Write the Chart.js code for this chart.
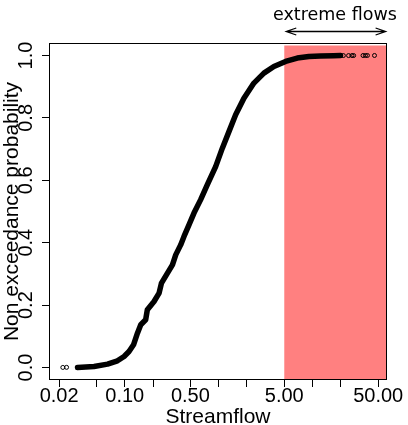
<!DOCTYPE html>
<html>
<head>
<meta charset="utf-8">
<title>Streamflow non exceedance probability</title>
<script src="https://cdn.jsdelivr.net/npm/chart.js@4.4.1/dist/chart.umd.min.js"></script>
<style>
  html, body { margin: 0; padding: 0; background: #fff; }
  canvas { display: block; }
</style>
</head>
<body>
<canvas id="cdfChart" width="408" height="425"></canvas>
<script>
const streamflow = [0.0314, 0.0471, 0.0655, 0.0836, 0.0983, 0.111, 0.124, 0.1365, 0.148, 0.167,
    0.174, 0.205, 0.232, 0.246, 0.285, 0.322, 0.349, 0.394, 0.4275, 0.483,
    0.546, 0.6435, 0.758, 0.929, 1.095, 1.287, 1.517, 1.858, 2.374, 3.034,
    3.876, 5.162, 6.874, 9.133, 12.16, 16.72, 19.86];
const probability = [0.0, 0.0032, 0.0109, 0.0215, 0.0353, 0.0513, 0.0728, 0.110, 0.137, 0.153,
    0.185, 0.2115, 0.2385, 0.2705, 0.3026, 0.329, 0.361, 0.393, 0.420, 0.457,
    0.495, 0.538, 0.586, 0.644, 0.703, 0.756, 0.810, 0.863, 0.9115, 0.9436,
    0.9647, 0.981, 0.9917, 0.9968, 0.9984, 0.9994, 0.9996];

// isolated observations in both tails
const tailFlows = [0.0219, 0.0240, 21.3, 24.2, 26.3, 27.4, 34.5, 36.6, 38.4, 45.7];
const tailProbs = [0.0003, 0.0006, 0.9997, 0.9997, 0.9998, 0.9998, 0.9999, 0.9999, 1.0, 1.0];

const xTickValues = [0.02, 0.05, 0.1, 0.2, 0.5, 1, 2, 5, 10, 20, 50];
const xTickLabels = ['0.02', '', '0.10', '', '0.50', '', '', '5.00', '', '', '50.00'];
const yTickValues = [0, 0.2, 0.4, 0.6, 0.8, 1.0];
const yTickLabels = ['0.0', '0.2', '0.4', '0.6', '0.8', '1.0'];

const extremeFrom = 5;
const extremeTo = 60;
const extremeLabel = 'extreme flows';

Chart.defaults.font.family = "'Liberation Sans', Arial, sans-serif";
Chart.defaults.color = '#000';

const decorations = {
    id: 'decorations',
    beforeDatasetsDraw(chart) {
        const {ctx, chartArea, scales: {x, y}} = chart;
        const left = x.getPixelForValue(extremeFrom);
        const top = y.getPixelForValue(1.032);
        ctx.save();
        ctx.fillStyle = '#ff8080';
        ctx.fillRect(left, top, chartArea.right - 1 - left, chartArea.bottom - top);
        ctx.restore();
    },
    afterDraw(chart) {
        const {ctx, chartArea, scales: {x, y}} = chart;
        ctx.save();
        ctx.strokeStyle = '#000';
        ctx.lineWidth = 1;
        ctx.strokeRect(chartArea.left + 0.5, chartArea.top + 0.5, chartArea.width - 1, chartArea.height - 1);

        // double headed arrow over the extreme band
        const x1 = x.getPixelForValue(extremeFrom) + 2;
        const x2 = x.getPixelForValue(extremeTo);
        const ay = Math.round(y.getPixelForValue(1.08)) + 0.5;
        ctx.lineWidth = 1.3;
        ctx.beginPath();
        ctx.moveTo(x1, ay);
        ctx.lineTo(x2, ay);
        ctx.moveTo(x1 + 10, ay - 3.5);
        ctx.lineTo(x1, ay);
        ctx.lineTo(x1 + 10, ay + 3.5);
        ctx.moveTo(x2 - 10, ay - 3.5);
        ctx.lineTo(x2, ay);
        ctx.lineTo(x2 - 10, ay + 3.5);
        ctx.stroke();

        ctx.fillStyle = '#000';
        ctx.font = "17.5px 'DejaVu Sans'";
        ctx.textAlign = 'center';
        ctx.textBaseline = 'middle';
        ctx.fillText(extremeLabel, x.getPixelForValue(Math.sqrt(extremeFrom * extremeTo)), y.getPixelForValue(1.127));
        ctx.restore();
    }
};

new Chart(document.getElementById('cdfChart'), {
    type: 'scatter',
    data: {
        datasets: [{
            data: streamflow.map((v, i) => ({x: v, y: probability[i]})),
            showLine: true,
            borderColor: '#000',
            borderWidth: 5.5,
            borderCapStyle: 'round',
            borderJoinStyle: 'round',
            pointRadius: 0,
            tension: 0
        }, {
            data: tailFlows.map((v, i) => ({x: v, y: tailProbs[i]})),
            showLine: false,
            pointRadius: 2,
            pointBorderWidth: 1,
            pointBorderColor: '#000',
            pointBackgroundColor: 'rgba(0,0,0,0)'
        }]
    },
    options: {
        responsive: false,
        animation: false,
        layout: { padding: { top: 43, right: 21, left: 0, bottom: 0 } },
        plugins: { legend: { display: false }, tooltip: { enabled: false } },
        scales: {
            x: {
                type: 'logarithmic',
                min: 0.0156,
                max: 62.1,
                afterBuildTicks: s => { s.ticks = xTickValues.map(v => ({value: v})); },
                afterFit: s => { s.height = 45; },
                border: { display: false },
                grid: { drawOnChartArea: false, drawTicks: true, tickLength: 7, color: '#000' },
                ticks: {
                    autoSkip: false, maxRotation: 0, padding: -3,
                    font: { size: 20 },
                    callback: (v, i) => xTickLabels[i]
                },
                title: { display: true, text: 'Streamflow', font: { size: 21, lineHeight: 1 }, padding: { top: 0, bottom: -3 } }
            },
            y: {
                min: -0.04,
                max: 1.04,
                afterBuildTicks: s => { s.ticks = yTickValues.map(v => ({value: v})); },
                afterFit: s => { s.width = 49; },
                border: { display: false },
                grid: { drawOnChartArea: false, drawTicks: true, tickLength: 7, color: '#000' },
                ticks: {
                    minRotation: 90, maxRotation: 90, crossAlign: 'center', padding: 1.5,
                    font: { size: 20 },
                    callback: (v, i) => yTickLabels[i]
                },
                title: { display: true, text: 'Non exceedance probability', font: { size: 21, lineHeight: 1.15 }, padding: 0 }
            }
        }
    },
    plugins: [decorations]
});
</script>
</body>
</html>
